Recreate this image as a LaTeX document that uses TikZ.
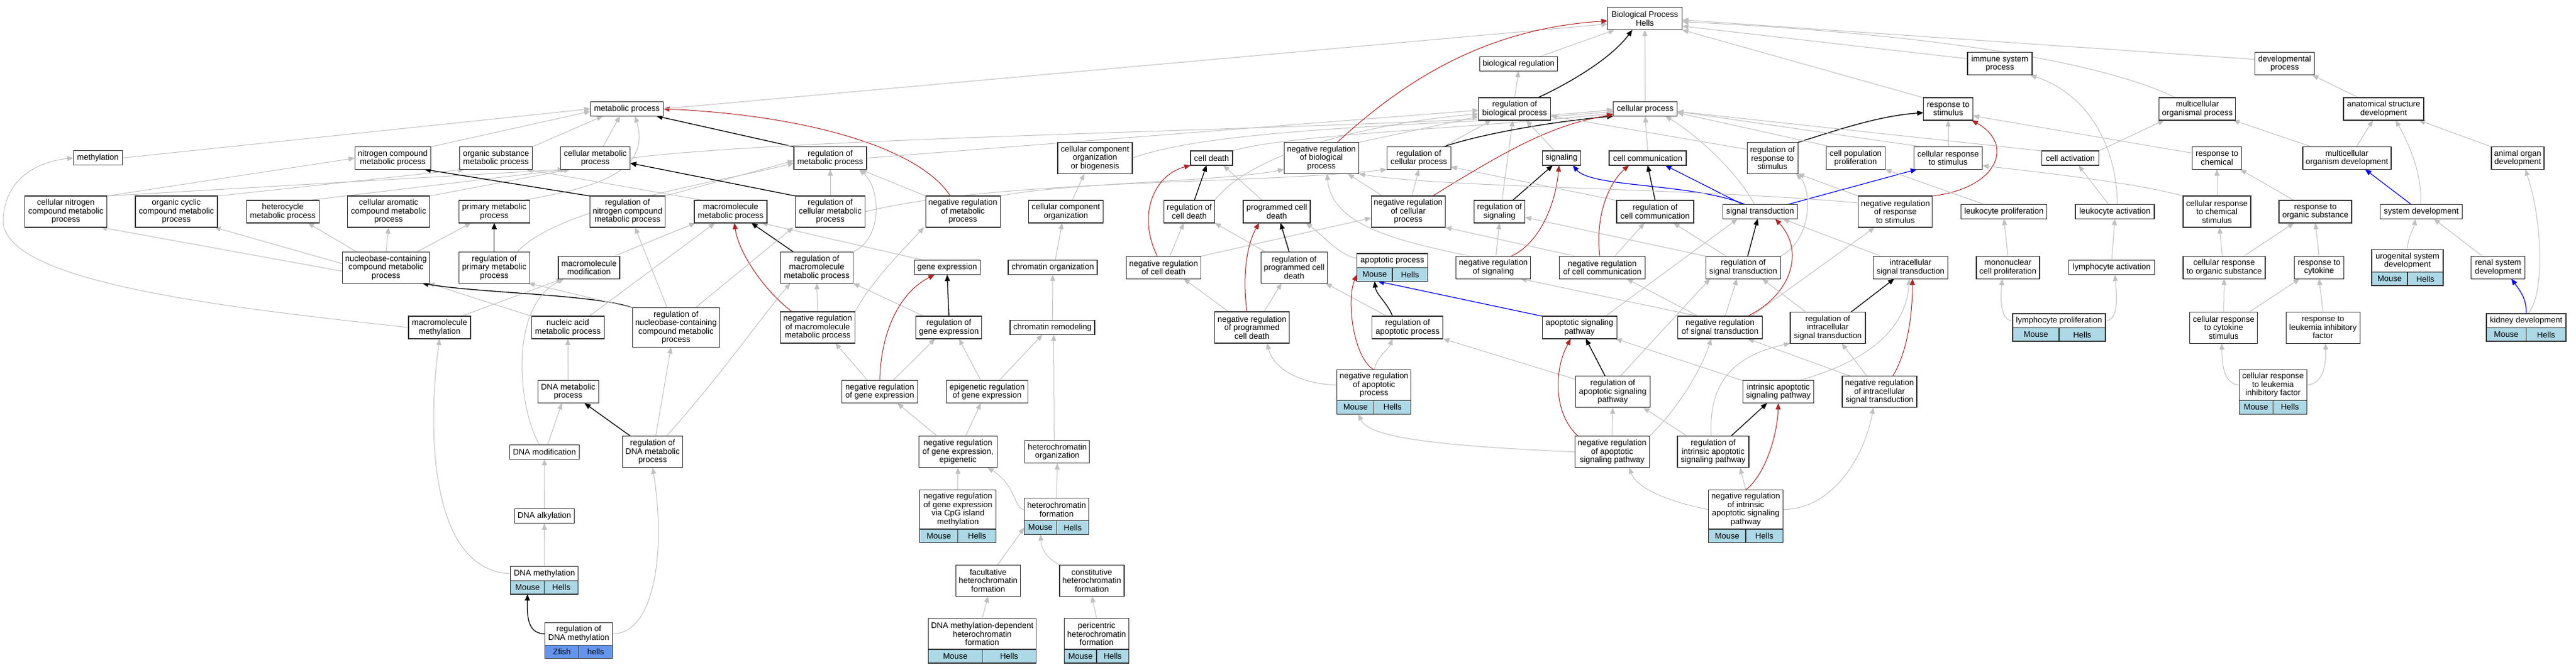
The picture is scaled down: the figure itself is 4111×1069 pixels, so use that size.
\documentclass[tikz,border=0pt]{standalone}
\usepackage{fontspec}
\setmainfont{Liberation Sans}
\usetikzlibrary{arrows.meta,fit,backgrounds}
\definecolor{eg}{HTML}{C0C0C0}
\definecolor{rd}{HTML}{B22222}
\definecolor{lb}{HTML}{ADD8E6}
\definecolor{zf}{HTML}{6495ED}
\definecolor{bd}{HTML}{333333}
\tikzset{
 box/.style={draw=bd,line width=1.2pt,fill=white,inner sep=0pt,outer sep=0pt,align=center,font=\fontsize{13}{13.5}\selectfont},
 ga/.style={draw=eg,line width=1pt,-{Triangle[length=10pt,width=8pt]}},
 bk/.style={draw=black,line width=1.3pt,-{Triangle[length=10pt,width=8pt]}},
 rdd/.style={draw=rd,line width=1pt,-{Triangle[length=10pt,width=8pt]}},
 bl/.style={draw=blue,line width=1.2pt,-{Triangle[length=10pt,width=8pt]}},
}
\newcommand{\gbox}[5]{\node[box,minimum width=#3pt,minimum height=#4pt] (#1) at (#2) {#5};}
\newcommand{\gtab}[9]{%
 \node[box,minimum width=#3pt,minimum height=#4pt] (#1) at (#2) {#6};
 \node[box,fill=#7,minimum width=#3pt/2,minimum height=#5pt,anchor=north east] (#1-m) at (#1.south) {#8};
 \node[box,fill=#7,minimum width=#3pt/2,minimum height=#5pt,anchor=north west] (#1-h) at (#1.south) {#9};
 \node[fit=(#1)(#1-m)(#1-h),inner sep=0pt,outer sep=0pt] (#1-all) {};}
\begin{document}
\begin{tikzpicture}[x=1pt,y=-1pt]
\useasboundingbox (0,0) rectangle (4111,1069);
% row 0-2
\gbox{bp}{2625,29.7}{119}{36}{Biological Process\\Hells}
\gbox{bioreg}{2423.5,101.8}{124}{23}{biological regulation}
\gbox{immune}{3191.5,101.8}{103}{36}{immune system\\process}
\gbox{devproc}{3646,101.8}{95}{36}{developmental\\process}
\gbox{metab}{1000.4,173.8}{116}{23}{metabolic process}
\gbox{regbio}{2417.3,174}{115}{36}{regulation of\\biological process}
\gbox{cellproc}{2625.6,174}{102}{23}{cellular process}
\gbox{respstim}{3109,174}{79}{36}{response to\\stimulus}
\gbox{multorg}{3506.8,174}{122}{36}{multicellular\\organismal process}
\gbox{anatdev}{3804,174}{128}{36}{anatomical structure\\development}
% row 3
\gbox{methyl}{156.2,252.3}{78}{23}{methylation}
\gbox{nitro}{626.8,252.5}{121}{36}{nitrogen compound\\metabolic process}
\gbox{orgsub}{791.6,252.5}{116}{36}{organic substance\\metabolic process}
\gbox{cellmet}{950,252.5}{111}{36}{cellular metabolic\\process}
\gbox{regmet}{1325,252.5}{116}{36}{regulation of\\metabolic process}
\gbox{ccob}{1747.5,252.5}{119}{50}{cellular component\\organization\\or biogenesis}
\gbox{celldeath}{1933.5,252.5}{67}{23}{cell death}
\gbox{nrbio}{2108.8,252.5}{119}{50}{negative regulation\\of biological\\process}
\gbox{regcell}{2264.2,252.5}{102}{36}{regulation of\\cellular process}
\gbox{signaling}{2492,252.5}{61}{23}{signaling}
\gbox{cellcomm}{2629.5,252.5}{123}{23}{cell communication}
\gbox{regresp}{2828.6,252.5}{81}{50}{regulation of\\response to\\stimulus}
\gbox{cellpop}{2961.4,252.5}{94}{36}{cell population\\proliferation}
\gbox{cellresp}{3109,252.5}{109}{36}{cellular response\\to stimulus}
\gbox{cellact}{3304,252.5}{91}{23}{cell activation}
\gbox{respchem}{3538,252.5}{79}{36}{response to\\chemical}
\gbox{multdev}{3745.4,252.5}{141}{36}{multicellular\\organism development}
\gbox{organdev}{4018,252.5}{84}{36}{animal organ\\development}
% row 4
\gbox{cnitro}{105.1,338}{131}{50}{cellular nitrogen\\compound metabolic\\process}
\gbox{orgcyc}{281.5,338}{131}{50}{organic cyclic\\compound metabolic\\process}
\gbox{hetero}{451.3,338}{116}{36}{heterocycle\\metabolic process}
\gbox{arom}{620.1,338}{131}{50}{cellular aromatic\\compound metabolic\\process}
\gbox{primary}{788.8,338}{113}{36}{primary metabolic\\process}
\gbox{regnitro}{1001.4,338}{120}{50}{regulation of\\nitrogen compound\\metabolic process}
\gbox{macro}{1166,338}{116}{36}{macromolecule\\metabolic process}
\gbox{regcellmet}{1325,338}{111}{50}{regulation of\\cellular metabolic\\process}
\gbox{nrmet}{1536.6,338}{119}{50}{negative regulation\\of metabolic\\process}
\gbox{cco}{1701,338}{119}{36}{cellular component\\organization}
\gbox{regdeath}{1898,338}{81}{36}{regulation of\\cell death}
\gbox{pcd}{2037.5,338}{107}{36}{programmed cell\\death}
\gbox{nrcell}{2247.3,338}{118}{50}{negative regulation\\of cellular\\process}
\gbox{regsig}{2393,338}{81}{36}{regulation of\\signaling}
\gbox{regcomm}{2641.4,338}{123}{36}{regulation of\\cell communication}
\gbox{sigtrans}{2809,338}{119}{23}{signal transduction}
\gbox{nrresp}{3024.8,338}{118}{50}{negative regulation\\of response\\to stimulus}
\gbox{leukprol}{3198,338}{137}{23}{leukocyte proliferation}
\gbox{leukact}{3375,338}{126}{23}{leukocyte activation}
\gbox{cellchem}{3538,338}{108}{50}{cellular response\\to chemical\\stimulus}
\gbox{resporg}{3695,338}{116}{36}{response to\\organic substance}
\gbox{sysdev}{3864,338}{131}{23}{system development}
% row 5
\gbox{nucleo}{616,427.2}{139}{50}{nucleobase-containing\\compound metabolic\\process}
\gbox{regprim}{788.8,427.2}{113}{50}{regulation of\\primary metabolic\\process}
\gbox{macromod}{940,427.2}{98}{36}{macromolecule\\modification}
\gbox{regmacro}{1303.5,427.2}{116}{50}{regulation of\\macromolecule\\metabolic process}
\gbox{geneexp}{1511.6,427.2}{105}{23}{gene expression}
\gbox{chromorg}{1680,427.2}{142}{23}{chromatin organization}
\gbox{nrdeath}{1857,427.2}{119}{36}{negative regulation\\of cell death}
\gbox{regpcd}{2065.3,427.2}{106}{50}{regulation of\\programmed cell\\death}
\gtab{apop}{2222,416.35}{113}{22.7}{21.6}{apoptotic process}{lb}{Mouse}{Hells}
\gbox{nrsig}{2383.3,427.2}{119}{36}{negative regulation\\of signaling}
\gbox{nrcomm}{2557,427.2}{137}{36}{negative regulation\\of cell communication}
\gbox{regst}{2782,427.2}{119}{36}{regulation of\\signal transduction}
\gbox{intra}{3049,427.2}{119}{36}{intracellular\\signal transduction}
\gbox{mono}{3204.4,427.2}{101}{36}{mononuclear\\cell proliferation}
\gbox{lymact}{3370,427.2}{137}{23}{lymphocyte activation}
\gbox{cellorg}{3549.5,427.2}{131}{36}{cellular response\\to organic substance}
\gbox{respcyt}{3701,427.2}{79}{36}{response to\\cytokine}
\gtab{urog}{3842,416.5}{114}{36.4}{21.3}{urogenital system\\development}{lb}{Mouse}{Hells}
\gbox{renal}{3986.7,427.2}{86}{36}{renal system\\development}
% row 6
\gbox{macmeth}{701.5,523}{99}{36}{macromolecule\\methylation}
\gbox{nucacid}{906.2,523}{116}{36}{nucleic acid\\metabolic process}
\gbox{regnucleo}{1078.8,523}{139}{63}{regulation of\\nucleobase-containing\\compound metabolic\\process}
\gbox{nrmacro}{1305,523}{119}{50}{negative regulation\\of macromolecule\\metabolic process}
\gbox{reggene}{1514.3,523}{105}{36}{regulation of\\gene expression}
\gbox{chromrem}{1679.5,523}{135}{23}{chromatin remodeling}
\gbox{nrpcd}{1998,523}{119}{50}{negative regulation\\of programmed\\cell death}
\gbox{regapop}{2246.3,523}{113}{36}{regulation of\\apoptotic process}
\gbox{apsig}{2520.7,523}{119}{36}{apoptotic signaling\\pathway}
\gbox{nrst}{2745,523}{135}{36}{negative regulation\\of signal transduction}
\gbox{regintra}{2917,523.3}{120}{50}{regulation of\\intracellular\\signal transduction}
\gtab{lymprol}{3286,512.35}{148}{22.7}{21.3}{lymphocyte proliferation}{lb}{Mouse}{Hells}
\gbox{cellcyt}{3548.7,523.3}{108}{50}{cellular response\\to cytokine\\stimulus}
\gbox{resplif}{3707.2,523.3}{118}{50}{response to\\leukemia inhibitory\\factor}
\gtab{kidney}{4031.4,512.35}{127}{22.7}{21.3}{kidney development}{lb}{Mouse}{Hells}
% row 7
\gbox{dnamet}{906.7,625.8}{97}{36}{DNA metabolic\\process}
\gbox{nrgene}{1404,625.8}{121}{36}{negative regulation\\of gene expression}
\gbox{epigen}{1575.4,625.8}{130}{36}{epigenetic regulation\\of gene expression}
\gtab{nrapop}{2192.8,615}{118}{48.6}{22}{negative regulation\\of apoptotic\\process}{lb}{Mouse}{Hells}
\gbox{regapsig}{2573.7,625.8}{119}{50}{regulation of\\apoptotic signaling\\pathway}
\gbox{intrinsic}{2838,625.8}{113}{36}{intrinsic apoptotic\\signaling pathway}
\gbox{nrintra}{2999.5,625.8}{119}{50}{negative regulation\\of intracellular\\signal transduction}
\gtab{celllif}{3627.4,615}{108}{48.6}{22}{cellular response\\to leukemia\\inhibitory factor}{lb}{Mouse}{Hells}
% row 8
\gbox{dnamod}{868.8,721.7}{111}{23}{DNA modification}
\gbox{regdna}{1041.5,721.7}{96}{50}{regulation of\\DNA metabolic\\process}
\gbox{nrgeneepi}{1528.8,721.7}{125}{50}{negative regulation\\of gene expression,\\epigenetic}
\gbox{hetorg}{1687.3,721.8}{103}{36}{heterochromatin\\organization}
\gbox{nrapsig}{2572.7,721.8}{119}{50}{negative regulation\\of apoptotic\\signaling pathway}
\gbox{regintr}{2734,721.8}{114}{50}{regulation of\\intrinsic apoptotic\\signaling pathway}
% row 9-11
\gbox{dnaalk}{868.7,824.3}{95}{23}{DNA alkylation}
\gtab{cpg}{1528.8,813.65}{122}{62.7}{21.7}{negative regulation\\of gene expression\\via CpG island\\methylation}{lb}{Mouse}{Hells}
\gtab{hetform}{1686.2,813.7}{103}{36}{21.6}{heterochromatin\\formation}{lb}{Mouse}{Hells}
\gtab{nrintr}{2786,813.65}{119}{62.7}{21.7}{negative regulation\\of intrinsic\\apoptotic signaling\\pathway}{lb}{Mouse}{Hells}
\gtab{dnameth}{868.8,916}{108}{22.6}{21.7}{DNA methylation}{lb}{Mouse}{Hells}
\gbox{facult}{1577,927.2}{103}{50}{facultative\\heterochromatin\\formation}
\gbox{constit}{1742.4,927.2}{103}{50}{constitutive\\heterochromatin\\formation}
\gtab{regdnameth}{923.7,1012.3}{108}{36}{21.4}{regulation of\\DNA methylation}{zf}{Zfish}{hells}
\gtab{dnamdh}{1567.5,1012.35}{172}{49.3}{22}{DNA methylation-dependent\\heterochromatin\\formation}{lb}{Mouse}{Hells}
\gtab{peri}{1750,1012.35}{103}{49.3}{22}{pericentric\\heterochromatin\\formation}{lb}{Mouse}{Hells}

\begin{pgfonlayer}{background}
\fill[white] (0,0) rectangle (4111,1069);
% metabolic cluster
\draw[ga] (methyl.east) -- (metab.west);
\draw[ga] (macmeth.west) .. controls (350,490) and (0,450) .. (5,350) .. controls (8,285) and (60,258) .. (methyl.west);
\draw[ga] ([xshift=-15pt]macmeth.north east) -- ([xshift=-42pt]macromod.south);
\draw[ga] (nitro.north east) -- ([yshift=-4pt]metab.west);
\draw[ga] (cnitro.north east) -- (nitro.west);
\draw[ga] (cnitro.north east) -- ([xshift=-50pt]cellmet.south);
\draw[ga] (orgcyc.north east) -- ([xshift=-50pt]orgsub.south);
\draw[ga] ([xshift=40pt]hetero.north) -- ([xshift=-45pt]cellmet.south);
\draw[ga] (arom.north east) -- ([xshift=-40pt]cellmet.south);
\draw[ga] ([yshift=-6pt]nucleo.west) -- ([xshift=-10pt]cnitro.south east);
\draw[ga] ([yshift=6pt]nucleo.west) -- ([xshift=-5pt]orgcyc.south east);
\draw[ga] ([xshift=-47pt]nucleo.north) -- ([xshift=40pt]hetero.south);
\draw[ga] (nucleo.north) -- (arom.south);
\draw[ga] ([xshift=-20pt]nucleo.north east) -- ([xshift=-37pt]primary.south);
\draw[ga] (nucacid.north west) -- ([xshift=-2pt]nucleo.south east);
\draw[bk] (regnucleo.north west) .. controls (950,470) and (760,468) .. ([xshift=-12pt]nucleo.south east);
\draw[ga] ([xshift=34pt]nucacid.north) -- ([xshift=-25pt]macro.south);
\draw[ga] (dnamet.north) -- (nucacid.south);
\draw[ga] ([xshift=-8pt]dnamod.north) .. controls (826,650) and (812,490) .. ([xshift=-40pt]macromod.south);
\draw[ga] ([xshift=5pt]dnamod.north) -- ([xshift=-10pt]dnamet.south);
\draw[ga] (dnaalk.north) -- (dnamod.south);
\draw[ga] (dnameth.north) -- (dnaalk.south);
\draw[ga] (dnameth.west) .. controls (690,912) and (680,700) .. (macmeth.south);
\draw[ga] (regdnameth.east) .. controls (1045,1012) and (1063,880) .. (regdna.south);
\draw[bk] (regdnameth.west) .. controls (842,1012) and (841,985) .. (dnameth-m.south);
\draw[bk] ([xshift=-35pt]regdna.north) -- ([xshift=26pt]dnamet.south);
\draw[ga] ([xshift=5pt]regdna.north) -- ([xshift=-8pt]regnucleo.south);
\draw[ga] ([xshift=22pt]regdna.north) .. controls (1150,600) and (1220,500) .. ([xshift=-42pt]regmacro.south);
\draw[ga] ([xshift=12pt]cellmet.north) -- ([xshift=-11pt]metab.south);
\draw[ga] (orgsub.north east) -- ([xshift=-38pt]metab.south);
\draw[ga] ([xshift=-12pt]primary.north east) .. controls (950,300) and (1040,275) .. ([xshift=13pt]metab.south);
\draw[bk] (regmet.north west) -- ([xshift=47pt]metab.south);
\draw[rdd] ([xshift=-20pt]nrmet.north) .. controls (1470,240) and (1300,185) .. (metab.east);
\draw[ga] (regmet.east) -- ([yshift=-2pt]regbio.west);
\draw[ga] (metab.east) -- ([yshift=-8.6pt]bp.west);
\draw[ga] ([xshift=-43pt]macro.north) -- ([xshift=48pt]orgsub.south);
\draw[ga] ([xshift=40pt]macromod.north) -- ([xshift=-56pt]macro.south);
\draw[ga] ([xshift=-37pt]geneexp.north) -- ([xshift=49pt]macro.south);
\draw[bk] ([xshift=-37.5pt]regmacro.north) -- ([xshift=33pt]macro.south);
\draw[ga] (regmacro.north east) .. controls (1410,380) and (1405,300) .. ([xshift=-12pt]regmet.south east);
\draw[rdd] ([xshift=-41pt]nrmacro.north) .. controls (1215,460) and (1178,400) .. ([xshift=6pt]macro.south);
\draw[ga] (nrmacro.north) -- (regmacro.south);
\draw[ga] (nrmacro.north east) .. controls (1390,450) and (1440,400) .. ([xshift=-62pt]nrmet.south);
\draw[ga] (regnucleo.north west) -- ([xshift=-2pt]regprim.south east);
\draw[ga] ([xshift=-14pt]regnucleo.north) -- ([xshift=12pt]regnitro.south);
\draw[ga] ([xshift=31pt]regnucleo.north) -- ([xshift=-59pt]regcellmet.south);
\draw[ga] ([xshift=37pt]regprim.north) .. controls (890,330) and (1150,290) .. ([yshift=-8pt]regmet.west);
\draw[ga] (regnitro.north east) -- ([yshift=-4pt]regmet.west);
\draw[bk] (regprim.north) -- (primary.south);
\draw[bk] (regnitro.north west) -- ([xshift=-10pt]nitro.south east);
\draw[bk] (regcellmet.north west) -- ([yshift=-8pt]cellmet.east);
\draw[ga] (regcellmet.north) -- (regmet.south);
\draw[ga] (regcellmet.east) .. controls (1600,285) and (2000,295) .. (regcell.south west);
\draw[ga] (nrmet.north west) -- ([xshift=-10pt]regmet.south east);
\draw[ga] (nrmet.north east) .. controls (1700,292) and (1950,290) .. ([yshift=-18pt]nrbio.west);
% gene expression / chromatin
\draw[bk] (reggene.north) -- (geneexp.south);
\draw[ga] ([xshift=-40pt]reggene.north) -- (regmacro.south east);
\draw[rdd] (nrgene.north) .. controls (1405,540) and (1430,470) .. ([xshift=-20pt]geneexp.south);
\draw[ga] ([xshift=21pt]nrgene.north) -- ([xshift=-22pt]reggene.south);
\draw[ga] ([xshift=-19pt]nrgene.north) -- ([xshift=28pt]nrmacro.south);
\draw[ga] ([xshift=-10pt]epigen.north) -- ([xshift=16pt]reggene.south);
\draw[ga] ([xshift=19pt]epigen.north) -- ([xshift=-16pt]chromrem.south);
\draw[ga] ([xshift=-5pt]hetorg.north) -- ([xshift=2pt]chromrem.south);
\draw[ga] (chromrem.north) -- (chromorg.south);
\draw[ga] ([xshift=4pt]chromorg.north) -- ([xshift=-6pt]cco.south);
\draw[ga] ([xshift=10pt]cco.north) -- ([xshift=-17pt]ccob.south);
\draw[ga] (ccob.east) .. controls (1950,200) and (2350,200) .. ([yshift=-4pt]cellproc.west);
\draw[ga] (cellmet.east) .. controls (1300,215) and (2300,205) .. ([yshift=-1pt]cellproc.west);
\draw[ga] (celldeath.north east) .. controls (2050,215) and (2350,205) .. ([yshift=-7pt]cellproc.west);
\draw[ga] ([xshift=-33pt]nrgeneepi.north) -- ([xshift=28pt]nrgene.south);
\draw[ga] ([xshift=12pt]nrgeneepi.north) -- ([xshift=-10pt]epigen.south);
\draw[ga] (cpg.north) -- (nrgeneepi.south);
\draw[ga] (hetform.west) .. controls (1618,813) and (1622,775) .. ([xshift=47pt]nrgeneepi.south);
\draw[ga] (hetform.north) -- (hetorg.south);
\draw[ga] ([xshift=15pt]facult.north) -- (hetform-m.west);
\draw[ga] (constit.north west) .. controls (1668,890) and (1662,875) .. (hetform-m.south);
\draw[ga] (dnamdh.north) -- (facult.south);
\draw[ga] (peri.north) -- (constit.south);
% death / apoptosis
\draw[bk] ([xshift=8pt]regdeath.north) -- ([xshift=-8pt]celldeath.south);
\draw[ga] (regdeath.north east) .. controls (2000,240) and (2200,195) .. ([yshift=-8pt]regbio.west);
\draw[rdd] ([xshift=-10pt]nrdeath.north) .. controls (1815,345) and (1840,280) .. (celldeath.south west);
\draw[ga] ([xshift=10pt]nrdeath.north) -- ([xshift=-9pt]regdeath.south);
\draw[ga] (nrdeath.north east) -- ([yshift=-10pt]nrcell.west);
\draw[ga] ([xshift=-23pt]pcd.north) -- ([xshift=-15pt]celldeath.south east);
\draw[bk] ([xshift=-8pt]regpcd.north) -- ([xshift=6pt]pcd.south);
\draw[ga] ([xshift=-46pt]regpcd.north) -- (regdeath.south east);
\draw[rdd] ([xshift=-8pt]nrpcd.north) .. controls (1982,440) and (1990,390) .. ([xshift=-28pt]pcd.south);
\draw[ga] ([xshift=19pt]nrpcd.north) -- ([xshift=-20pt]regpcd.south);
\draw[ga] ([xshift=-37pt]nrpcd.north) -- ([xshift=32pt]nrdeath.south);
\draw[ga] ([yshift=4pt]apop.west) .. controls (2140,410) and (2110,375) .. ([xshift=-7pt]pcd.south east);
\draw[bk] ([xshift=-24pt]regapop.north) .. controls (2215,485) and (2196,470) .. (apop-m.south);
\draw[ga] ([xshift=-33pt]regapop.north) -- ([xshift=-3pt]regpcd.south east);
\draw[rdd] (nrapop.north) .. controls (2160,572) and (2148,480) .. (apop-m.west);
\draw[ga] (nrapop.north) .. controls (2200,565) and (2215,560) .. ([xshift=-24pt]regapop.south);
\draw[ga] (nrapop.west) .. controls (2060,612) and (2030,580) .. ([xshift=24pt]nrpcd.south);
\draw[bl] (apsig.north west) -- ([xshift=5pt]apop-m.south);
\draw[bk] ([xshift=-12pt]regapsig.north) -- ([xshift=10pt]apsig.south);
\draw[ga] ([yshift=-5pt]regapsig.north west) -- (regapop.south east);
\draw[ga] ([xshift=12pt]regapsig.north) -- ([xshift=-53pt]regst.south);
\draw[ga] ([xshift=-18pt]apsig.north east) -- ([xshift=-36pt]sigtrans.south);
\draw[rdd] ([xshift=-54pt]nrapsig.north) .. controls (2478,660) and (2480,590) .. ([xshift=-14pt]apsig.south);
\draw[ga] (nrapsig.north) -- (regapsig.south);
\draw[ga] (nrapsig.west) .. controls (2300,712) and (2185,700) .. ([xshift=-25pt]nrapop-all.south);
\draw[ga] (nrapsig.north east) .. controls (2680,650) and (2715,590) .. ([xshift=-14pt]nrst.south);
\draw[ga] (intrinsic.north west) -- ([xshift=-2pt]apsig.south east);
\draw[ga] ([xshift=-25pt]intrinsic.north east) .. controls (2990,575) and (3042,520) .. ([xshift=-2pt]intra.south);
\draw[bk] ([xshift=28pt]regintr.north) -- ([xshift=-18pt]intrinsic.south);
\draw[ga] ([xshift=16pt]regintr.north west) -- ([xshift=-11pt]regapsig.south east);
\draw[ga] ([xshift=-3pt]regintr.north) .. controls (2725,600) and (2780,565) .. (regintra.south west);
\draw[rdd] (nrintr.north) .. controls (2815,760) and (2836,700) .. (intrinsic.south);
\draw[ga] (nrintr.north) -- ([xshift=43pt]regintr.south);
\draw[ga] (nrintr.west) .. controls (2680,805) and (2615,785) .. ([xshift=27pt]nrapsig.south);
\draw[ga] (nrintr.east) .. controls (2930,813) and (2978,720) .. ([xshift=-10pt]nrintra.south);
% signalling
\draw[bl] ([xshift=-24pt]sigtrans.north) .. controls (2700,292) and (2540,300) .. ([xshift=18pt]signaling.south);
\draw[bl] ([xshift=-28pt]sigtrans.north) -- ([xshift=28pt]cellcomm.south);
\draw[bl] ([xshift=44pt]sigtrans.north) -- ([xshift=-50pt]cellresp.south);
\draw[ga] ([xshift=-9pt]sigtrans.north) .. controls (2770,270) and (2700,210) .. ([xshift=32pt]cellproc.south);
\draw[bk] ([xshift=7pt]regst.north) -- ([xshift=-4pt]sigtrans.south);
\draw[ga] (regst.north west) -- ([yshift=-9pt]regsig.east);
\draw[ga] ([xshift=-27pt]regst.north) -- ([xshift=29pt]regcomm.south);
\draw[ga] (regst.north east) .. controls (2895,380) and (2890,300) .. ([xshift=-3pt]regresp.south east);
\draw[rdd] ([xshift=44pt]nrst.north) .. controls (2860,470) and (2880,400) .. ([xshift=24pt]sigtrans.south);
\draw[ga] ([xshift=8pt]nrst.north) -- ([xshift=-10pt]regst.south);
\draw[ga] ([xshift=-35pt]nrst.north) -- ([xshift=43pt]nrsig.south);
\draw[ga] ([xshift=-35pt]nrst.north) -- ([xshift=39pt]nrcomm.south);
\draw[ga] ([xshift=50pt]nrst.north) -- ([xshift=-33pt]nrresp.south);
\draw[ga] ([xshift=-47pt]intra.north) -- ([xshift=36pt]sigtrans.south);
\draw[bk] ([xshift=37pt]regintra.north) -- ([xshift=-26pt]intra.south);
\draw[ga] ([xshift=-35pt]regintra.north) -- ([xshift=30pt]regst.south);
\draw[rdd] ([xshift=21pt]nrintra.north) .. controls (3045,560) and (3052,500) .. ([xshift=3pt]intra.south);
\draw[ga] ([xshift=-20pt]nrintra.north) -- ([xshift=22pt]regintra.south);
\draw[ga] ([xshift=-46pt]nrintra.north) -- ([xshift=44pt]nrst.south);
\draw[bk] ([xshift=21pt]regsig.north) -- ([xshift=-14pt]signaling.south);
\draw[ga] ([xshift=4pt]regsig.north) -- ([xshift=-3pt]regbio.south);
\draw[rdd] ([xshift=28pt]nrsig.north) .. controls (2455,390) and (2482,330) .. ([xshift=-4pt]signaling.south);
\draw[ga] ([xshift=4pt]nrsig.north) -- (regsig.south);
\draw[ga] ([xshift=-36pt]nrsig.north) .. controls (2230,385) and (2125,360) .. ([xshift=9pt]nrbio.south);
\draw[bk] (regcomm.north) -- (cellcomm.south);
\draw[ga] (regcomm.north west) -- ([yshift=4pt]regcell.south east);
\draw[rdd] ([xshift=-4pt]nrcomm.north) .. controls (2545,340) and (2570,290) .. ([xshift=-30pt]cellcomm.south);
\draw[ga] ([xshift=20pt]nrcomm.north) -- ([xshift=-17pt]regcomm.south);
\draw[ga] ([xshift=-43pt]nrcomm.north) -- (nrcell.south east);
\draw[bk] ([xshift=-12pt]regcell.north east) .. controls (2360,215) and (2470,195) .. (cellproc.south west);
\draw[ga] ([xshift=-12pt]regcell.north east) -- ([xshift=-37pt]regbio.south);
\draw[rdd] ([xshift=-20pt]nrcell.north east) .. controls (2420,230) and (2480,200) .. ([yshift=3pt]cellproc.south west);
\draw[ga] ([xshift=6pt]nrcell.north) -- (regcell.south);
\draw[ga] ([xshift=-41pt]nrcell.north) -- ([xshift=42pt]nrbio.south);
\draw[rdd] ([xshift=25pt]nrbio.north) .. controls (2250,120) and (2380,45) .. ([yshift=-3.6pt]bp.west);
\draw[ga] (nrbio.north east) -- ([yshift=-12pt]regbio.west);
\draw[bk] ([xshift=37pt]regbio.north) .. controls (2500,135) and (2570,95) .. ([xshift=-20pt]bp.south);
\draw[ga] (regbio.north) -- (bioreg.south);
\draw[ga] ([xshift=34pt]bioreg.north) -- ([xshift=-48pt]bp.south);
\draw[ga] (cellproc.north) -- (bp.south);
\draw[ga] ([xshift=-11pt]signaling.north) -- ([xshift=18pt]regbio.south);
\draw[ga] (cellcomm.north) -- (cellproc.south);
% response / development
\draw[bk] (regresp.north east) .. controls (2940,205) and (3000,185) .. ([yshift=-6pt]respstim.west);
\draw[ga] ([yshift=14pt]regresp.west) -- ([yshift=-11pt]regbio.east);
\draw[rdd] (nrresp.north east) .. controls (3190,300) and (3215,230) .. ([xshift=-2pt]respstim.south east);
\draw[ga] (nrresp.north west) -- (regresp.south east);
\draw[ga] ([yshift=14pt]nrresp.west) .. controls (2700,300) and (2300,300) .. (nrbio.south east);
\draw[ga] (respstim.north west) -- (bp.south east);
\draw[ga] (cellresp.north) -- (respstim.south);
\draw[ga] ([xshift=13pt]cellresp.north west) -- ([yshift=-4pt]cellproc.east);
\draw[ga] ([xshift=-39pt]cellpop.north) -- ([yshift=-6pt]cellproc.east);
\draw[ga] (cellact.north west) -- ([yshift=-4pt]cellproc.east);
\draw[ga] (cellact.north east) -- ([xshift=8pt]multorg.south west);
\draw[ga] ([yshift=8pt]immune.west) -- ([yshift=-12pt]bp.east);
\draw[ga] ([yshift=7pt]devproc.west) -- ([yshift=-2pt]bp.east);
\draw[ga] ([xshift=-35pt]multorg.north) .. controls (3400,120) and (3200,60) .. ([yshift=-5pt]bp.east);
\draw[ga] ([xshift=-10pt]leukact.north) -- ([xshift=13pt]cellact.south);
\draw[ga] ([xshift=4pt]leukact.north) .. controls (3378,230) and (3330,150) .. ([xshift=-3pt]immune.south east);
\draw[ga] ([xshift=-31pt]leukprol.north) -- (cellpop.south east);
\draw[ga] (mono.north) -- (leukprol.south);
\draw[ga] (lymact.north) -- (leukact.south);
\draw[ga] (lymprol.west) .. controls (3190,512) and (3193,470) .. ([xshift=-9pt]mono.south);
\draw[ga] (lymprol.east) .. controls (3382,512) and (3378,470) .. ([xshift=5pt]lymact.south);
\draw[ga] ([xshift=-56pt]multdev.north) -- ([xshift=57pt]multorg.south);
\draw[ga] ([xshift=15pt]multdev.north) -- ([xshift=-17pt]anatdev.south);
\draw[ga] ([xshift=-40pt]anatdev.north) -- ([xshift=44pt]devproc.south);
\draw[bl] ([xshift=-16pt]sysdev.north) -- ([xshift=29pt]multdev.south);
\draw[ga] ([xshift=-1pt]sysdev.north) .. controls (3866,280) and (3845,230) .. ([xshift=19pt]anatdev.south);
\draw[ga] (organdev.north west) -- ([xshift=-8pt]anatdev.south east);
\draw[ga] (urog.north) .. controls (3842,380) and (3852,365) .. ([xshift=-9pt]sysdev.south);
\draw[ga] ([xshift=-25pt]renal.north) -- ([xshift=20pt]sysdev.south);
\draw[bl] (kidney.north) .. controls (4032,480) and (4026,470) .. ([xshift=21pt]renal.south);
\draw[ga] ([xshift=3pt]kidney.north) .. controls (4062,470) and (4057,350) .. ([xshift=12pt]organdev.south);
\draw[ga] ([yshift=8pt]respchem.west) -- ([yshift=-11pt]respstim.east);
\draw[ga] (cellchem.north) -- (respchem.south);
\draw[ga] (cellchem.north west) .. controls (3420,295) and (3300,280) .. ([yshift=-12pt]cellresp.east);
\draw[ga] ([xshift=-34pt]resporg.north) -- ([xshift=37pt]respchem.south);
\draw[ga] ([xshift=31pt]cellorg.north) -- ([xshift=-34pt]resporg.south);
\draw[ga] ([xshift=-3pt]cellorg.north) -- ([xshift=4pt]cellchem.south);
\draw[ga] (respcyt.north) -- (resporg.south);
\draw[ga] ([xshift=41pt]cellcyt.north) -- ([xshift=-31pt]respcyt.south);
\draw[ga] (cellcyt.north) -- (cellorg.south);
\draw[ga] (resplif.north) -- (respcyt.south);
\draw[ga] (celllif.west) .. controls (3548,613) and (3546,580) .. ([xshift=-3pt]cellcyt.south);
\draw[ga] (celllif.east) .. controls (3709,613) and (3712,580) .. ([xshift=4pt]resplif.south);
\end{pgfonlayer}
\end{tikzpicture}
\end{document}
